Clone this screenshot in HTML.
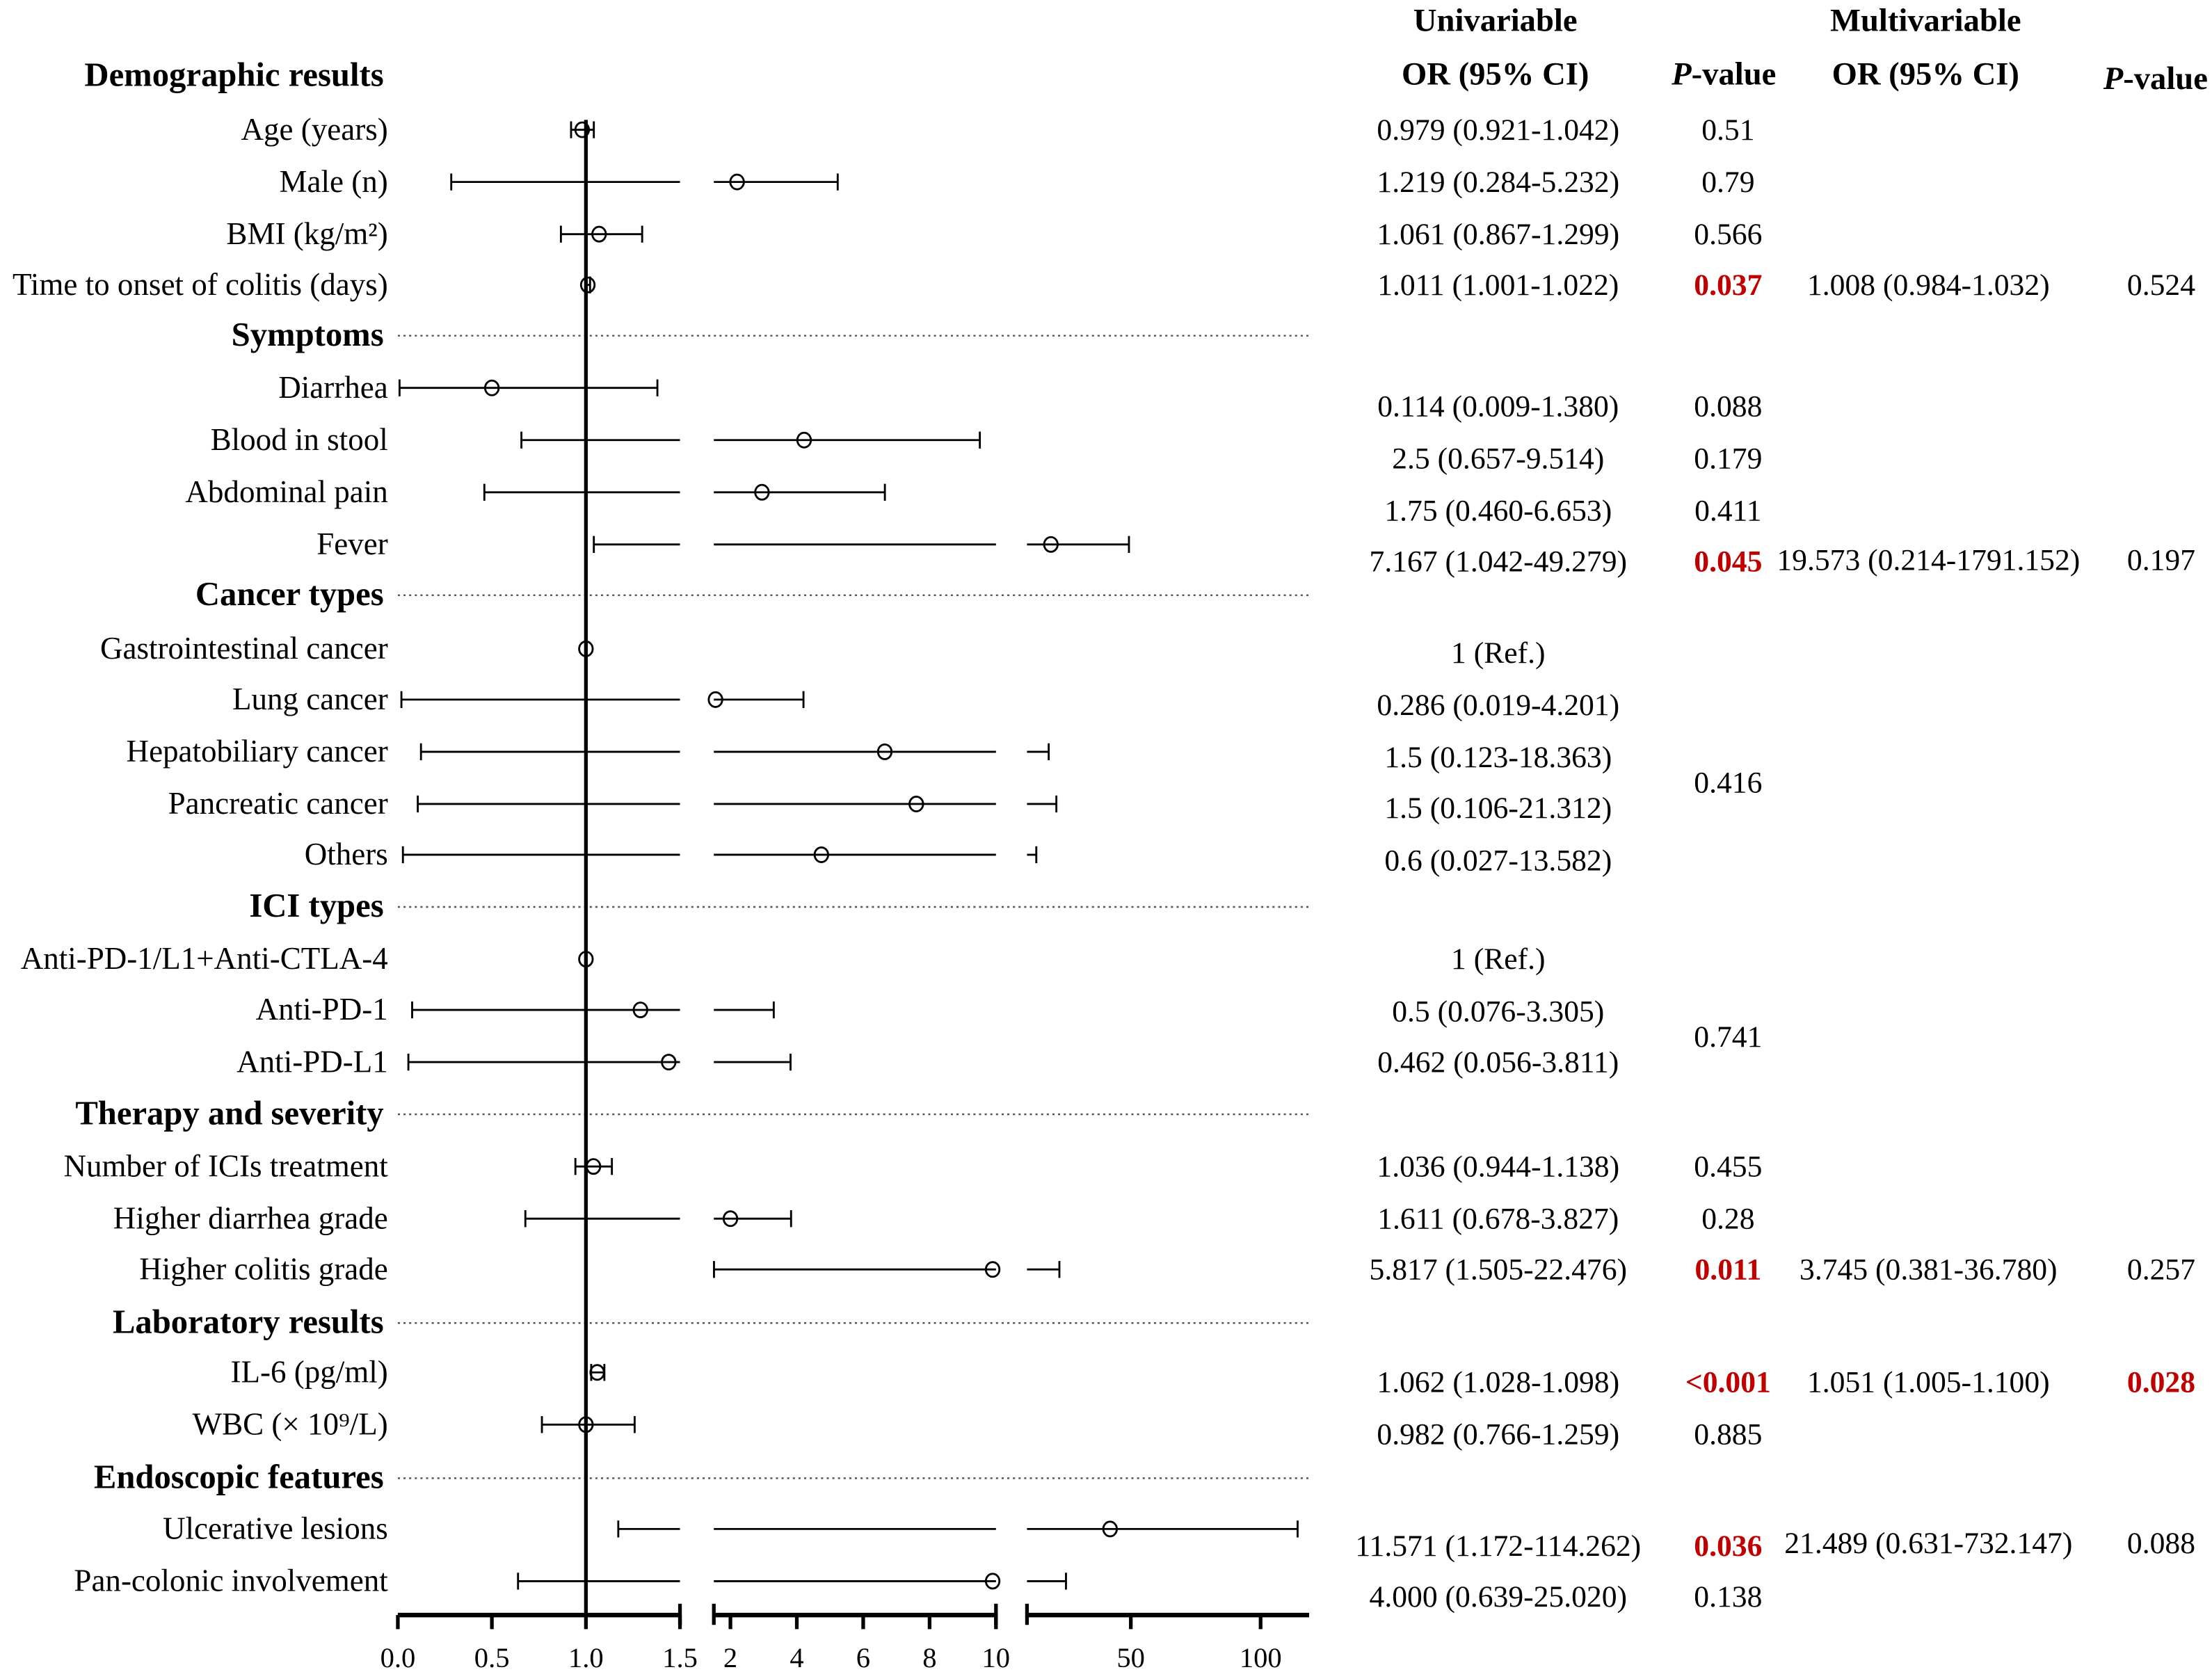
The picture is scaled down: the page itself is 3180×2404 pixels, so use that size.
<!DOCTYPE html>
<html><head><meta charset="utf-8"><style>
html,body{margin:0;padding:0;background:#fff}
svg{display:block}
text{font-family:"Liberation Serif",serif;fill:#000}
</style></head><body>
<svg id="chart" xmlns="http://www.w3.org/2000/svg" width="3180" height="2404" viewBox="0 0 1568 1185.4">
<g id="labels"></g>
<g id="seps"></g>
<g id="marks"></g>
<g id="axis"></g>
<g id="table" font-size="21.5">
<text x="1060" y="22" text-anchor="middle" font-weight="bold" font-size="23">Univariable</text>
<text x="1365" y="22" text-anchor="middle" font-weight="bold" font-size="23">Multivariable</text>
<text x="1060" y="60" text-anchor="middle" font-weight="bold" font-size="23">OR (95% CI)</text>
<text x="1222" y="60" text-anchor="middle" font-weight="bold" font-size="23"><tspan font-style="italic">P</tspan>-value</text>
<text x="1365" y="60" text-anchor="middle" font-weight="bold" font-size="23">OR (95% CI)</text>
<text x="1528" y="63" text-anchor="middle" font-weight="bold" font-size="23"><tspan font-style="italic">P</tspan>-value</text>
</g>
</svg>
<script>
const rowLabels=["Age (years)","Male (n)","BMI (kg/m²)","Time to onset of colitis (days)","Diarrhea","Blood in stool","Abdominal pain","Fever","Gastrointestinal cancer","Lung cancer","Hepatobiliary cancer","Pancreatic cancer","Others","Anti-PD-1/L1+Anti-CTLA-4","Anti-PD-1","Anti-PD-L1","Number of ICIs treatment","Higher diarrhea grade","Higher colitis grade","IL-6 (pg/ml)","WBC (× 10⁹/L)","Ulcerative lesions","Pan-colonic involvement"];
const rowY=[92,129,166,202,275,312,349,386,460,496,533,570,606,680,716,753,827,864,900,973,1010,1084,1121];
const pointVals=[0.98,2.2,1.07,1.01,0.5,4.22,2.95,19.2,1,1.55,6.65,7.6,4.74,1,1.29,1.44,1.04,2.0,9.9,1.06,1.0,42,9.9];
const ciLow=[0.921,0.284,0.867,1.001,0.009,0.657,0.46,1.042,null,0.019,0.123,0.106,0.027,null,0.076,0.056,0.944,0.678,1.505,1.028,0.766,1.172,0.639];
const ciHigh=[1.042,5.232,1.299,1.022,1.38,9.514,6.653,49.279,null,4.201,18.363,21.312,13.582,null,3.305,3.811,1.138,3.827,22.476,1.098,1.259,114.262,25.02];
const sections=["Demographic results","Symptoms","Cancer types","ICI types","Therapy and severity","Laboratory results","Endoscopic features"];
const sectionY=[53,237,421,642,789,937,1047];
const tickVals=[0,0.5,1.0,1.5,2,4,6,8,10,50,100];
const tickText=["0.0","0.5","1.0","1.5","2","4","6","8","10","50","100"];
const uniOR=["0.979 (0.921-1.042)","1.219 (0.284-5.232)","1.061 (0.867-1.299)","1.011 (1.001-1.022)","0.114 (0.009-1.380)","2.5 (0.657-9.514)","1.75 (0.460-6.653)","7.167 (1.042-49.279)","1 (Ref.)","0.286 (0.019-4.201)","1.5 (0.123-18.363)","1.5 (0.106-21.312)","0.6 (0.027-13.582)","1 (Ref.)","0.5 (0.076-3.305)","0.462 (0.056-3.811)","1.036 (0.944-1.138)","1.611 (0.678-3.827)","5.817 (1.505-22.476)","1.062 (1.028-1.098)","0.982 (0.766-1.259)","11.571 (1.172-114.262)","4.000 (0.639-25.020)"];
const uniORY=[92,129,166,202,288,325,362,398,463,500,537,573,610,680,717,753,827,864,900,980,1017,1096,1132];
const uniP=["0.51","0.79","0.566","0.037","0.088","0.179","0.411","0.045","0.416","0.741","0.455","0.28","0.011","<0.001","0.885","0.036","0.138"];
const uniPY=[92,129,166,202,288,325,362,398,555,735,827,864,900,980,1017,1096,1132];
const uniPSig=[0,0,0,1,0,0,0,1,0,0,0,0,1,1,0,1,0];
const multiOR=["1.008 (0.984-1.032)","19.573 (0.214-1791.152)","3.745 (0.381-36.780)","1.051 (1.005-1.100)","21.489 (0.631-732.147)"];
const multiP=["0.524","0.197","0.257","0.028","0.088"];
const multiPSig=[0,0,0,1,0];
const multiY=[202,397,900,980,1094];

const NS="http://www.w3.org/2000/svg";
const SEG=[{a:0,b:1.5,x0:282,x1:482},{a:1.5,b:10,x0:506,x1:706},{a:10,b:118.7,x0:728,x1:928}];
function segX(s,v){return s.x0+(v-s.a)/(s.b-s.a)*(s.x1-s.x0);}
function xScale(v){for(const s of SEG){if(v<s.b)return segX(s,Math.max(v,s.a));}return 928;}
function mk(tag,attrs,parent){const e=document.createElementNS(NS,tag);for(const k in attrs)e.setAttribute(k,attrs[k]);parent.appendChild(e);return e;}
const gL=document.getElementById('labels'),gS=document.getElementById('seps'),gM=document.getElementById('marks'),gA=document.getElementById('axis'),gT=document.getElementById('table');

rowLabels.forEach((l,i)=>{const t=mk('text',{x:275,y:rowY[i]+7,'text-anchor':'end','font-size':22.2},gL);


t.textContent=l;});
sections.forEach((s,i)=>{const t=mk('text',{x:272,y:sectionY[i]+8,'text-anchor':'end','font-size':24,'font-weight':'bold'},gL);


t.textContent=s;
if(i>0){const d=mk('line',{x1:282,x2:928,y1:sectionY[i]+1,y2:sectionY[i]+1,stroke:'#555','stroke-width':1.2,'stroke-dasharray':'1.5 2.5'},gS);

}});

const ref=mk('line',{x1:xScale(1),x2:xScale(1),y1:85,y2:1145,stroke:'#000','stroke-width':2.6},gM);



rowY.forEach((y,i)=>{
 if(ciLow[i]!==null){
  const lo=ciLow[i],hi=ciHigh[i];
  SEG.forEach(s=>{const a=Math.max(lo,s.a),b=Math.min(hi,s.b);if(b>a){const ln=mk('line',{x1:segX(s,a),x2:segX(s,b),y1:y,y2:y,stroke:'#000','stroke-width':1.4},gM);
   
   }});
  [lo,hi].forEach(v=>{const c=mk('line',{x1:xScale(v),x2:xScale(v),y1:y-6,y2:y+6,stroke:'#000','stroke-width':1.4},gM);
   
   });
 }
 const p=mk('ellipse',{cx:xScale(pointVals[i]),cy:y,rx:4.8,ry:5.2,fill:'none',stroke:'#000','stroke-width':1.4},gM);
 
 
});

SEG.forEach(s=>{const ln=mk('line',{x1:s.x0,x2:s.x1,y1:1145,y2:1145,stroke:'#000','stroke-width':3.2},gA);

});
[482,506,706,728].forEach(x=>{const b=mk('line',{x1:x,x2:x,y1:1137,y2:1152,stroke:'#000','stroke-width':2.6},gA);

});
tickVals.forEach((v,i)=>{const x=(v===1.5)?482:(v===10?706:xScale(v));
 const t=mk('line',{x1:x,x2:x,y1:1145,y2:1155,stroke:'#000','stroke-width':2.6},gA);
 
 
 const lb=mk('text',{x:x,y:1182,'text-anchor':'middle','font-size':20},gA);
 
 
 lb.textContent=tickText[i];});

uniOR.forEach((s,i)=>{const t=mk('text',{x:1062,y:uniORY[i]+7,'text-anchor':'middle','font-size':21.5},gT);


t.textContent=s;});
uniP.forEach((s,i)=>{const a={x:1225,y:uniPY[i]+7,'text-anchor':'middle','font-size':21.5};if(uniPSig[i]){a['font-weight']='bold';a.style='fill:#c00000';}
const t=mk('text',a,gT);


t.textContent=s;});
multiOR.forEach((s,i)=>{const t=mk('text',{x:1367,y:multiY[i]+7,'text-anchor':'middle','font-size':21.5},gT);


t.textContent=s;});
multiP.forEach((s,i)=>{const a={x:1532,y:multiY[i]+7,'text-anchor':'middle','font-size':21.5};if(multiPSig[i]){a['font-weight']='bold';a.style='fill:#c00000';}
const t=mk('text',a,gT);


t.textContent=s;});
</script>
</body></html>
